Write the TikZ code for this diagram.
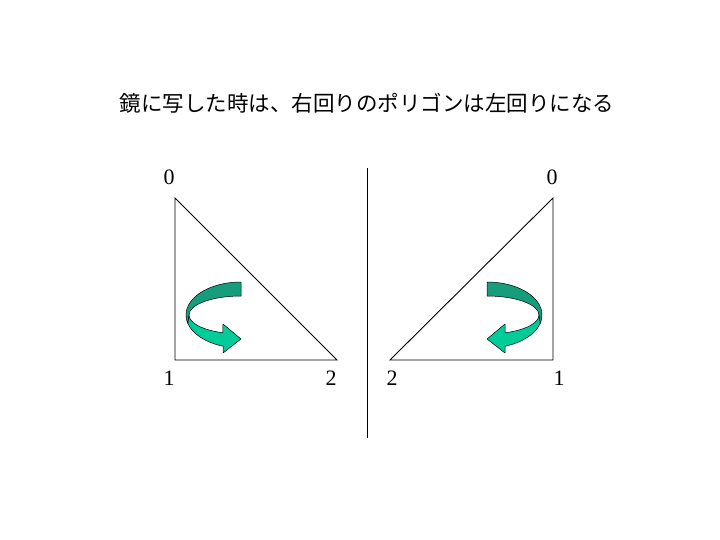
\documentclass[tikz,border=0pt]{standalone}
\usepackage{fontspec}
\setmainfont{Liberation Serif}
\newfontfamily\jpfont{Noto Sans CJK JP}
\definecolor{ribbondark}{RGB}{22,158,124}
\definecolor{ribbonlight}{RGB}{0,204,153}
\tikzset{
  edge/.style={draw=black, line width=0.9pt},
  digit/.style={inner sep=0pt, font=\fontsize{22}{22}\selectfont},
  bandback/.style={fill=ribbondark, draw=black, line width=0.5pt, line join=round},
  bandfront/.style={fill=ribbonlight, draw=black, line width=0.5pt, line join=round},
  twist/.pic={
    \path[bandback] (241,282) arc[start angle=-90, end angle=-195, x radius=55, y radius=33]
      -- (189,315) arc[start angle=-180, end angle=-90, x radius=52, y radius=19] -- cycle;
    \path[bandfront] (187.9,323.5) -- (189,315)
      arc[start angle=-180, end angle=-249.7, x radius=52, y radius=19]
      -- (223,324) -- (241,339) -- (223,353) -- (223,346.2)
      arc[start angle=-250.9, end angle=-195, x radius=55, y radius=33] -- cycle;
  }
}
\begin{document}
\begin{tikzpicture}[x=1pt, y=-1pt]
  \useasboundingbox[fill=white] (0,0) rectangle (720,540);
  \node[inner sep=0pt, font=\jpfont\fontsize{21.5}{21.5}\selectfont] (title) at (367,103)
    {鏡に写した時は、右回りのポリゴンは左回りになる};
  % left triangle
  \coordinate (A0) at (175,198);
  \coordinate (A1) at (175,360);
  \coordinate (A2) at (337,360);
  \draw[edge] (A0) -- (A1) -- (A2) -- cycle;
  % right triangle
  \coordinate (B0) at (553,198);
  \coordinate (B1) at (553,360);
  \coordinate (B2) at (390,360);
  \draw[edge] (B0) -- (B1) -- (B2) -- cycle;
  % mirror line
  \coordinate (Mt) at (367,168);
  \coordinate (Mb) at (367,438);
  \draw[edge] (Mt) -- (Mb);
  % labels
  \node[digit] (a0) at (169,177) {0};
  \node[digit] (a1) at (169,378) {1};
  \node[digit] (a2) at (331,378) {2};
  \node[digit] (b2) at (392,378) {2};
  \node[digit] (b0) at (552,177) {0};
  \node[digit] (b1) at (559,378) {1};
  % rotation arrows
  \pic {twist};
  \begin{scope}[xshift=728pt, xscale=-1]
    \pic[transform shape] {twist};
  \end{scope}
\end{tikzpicture}
\end{document}
